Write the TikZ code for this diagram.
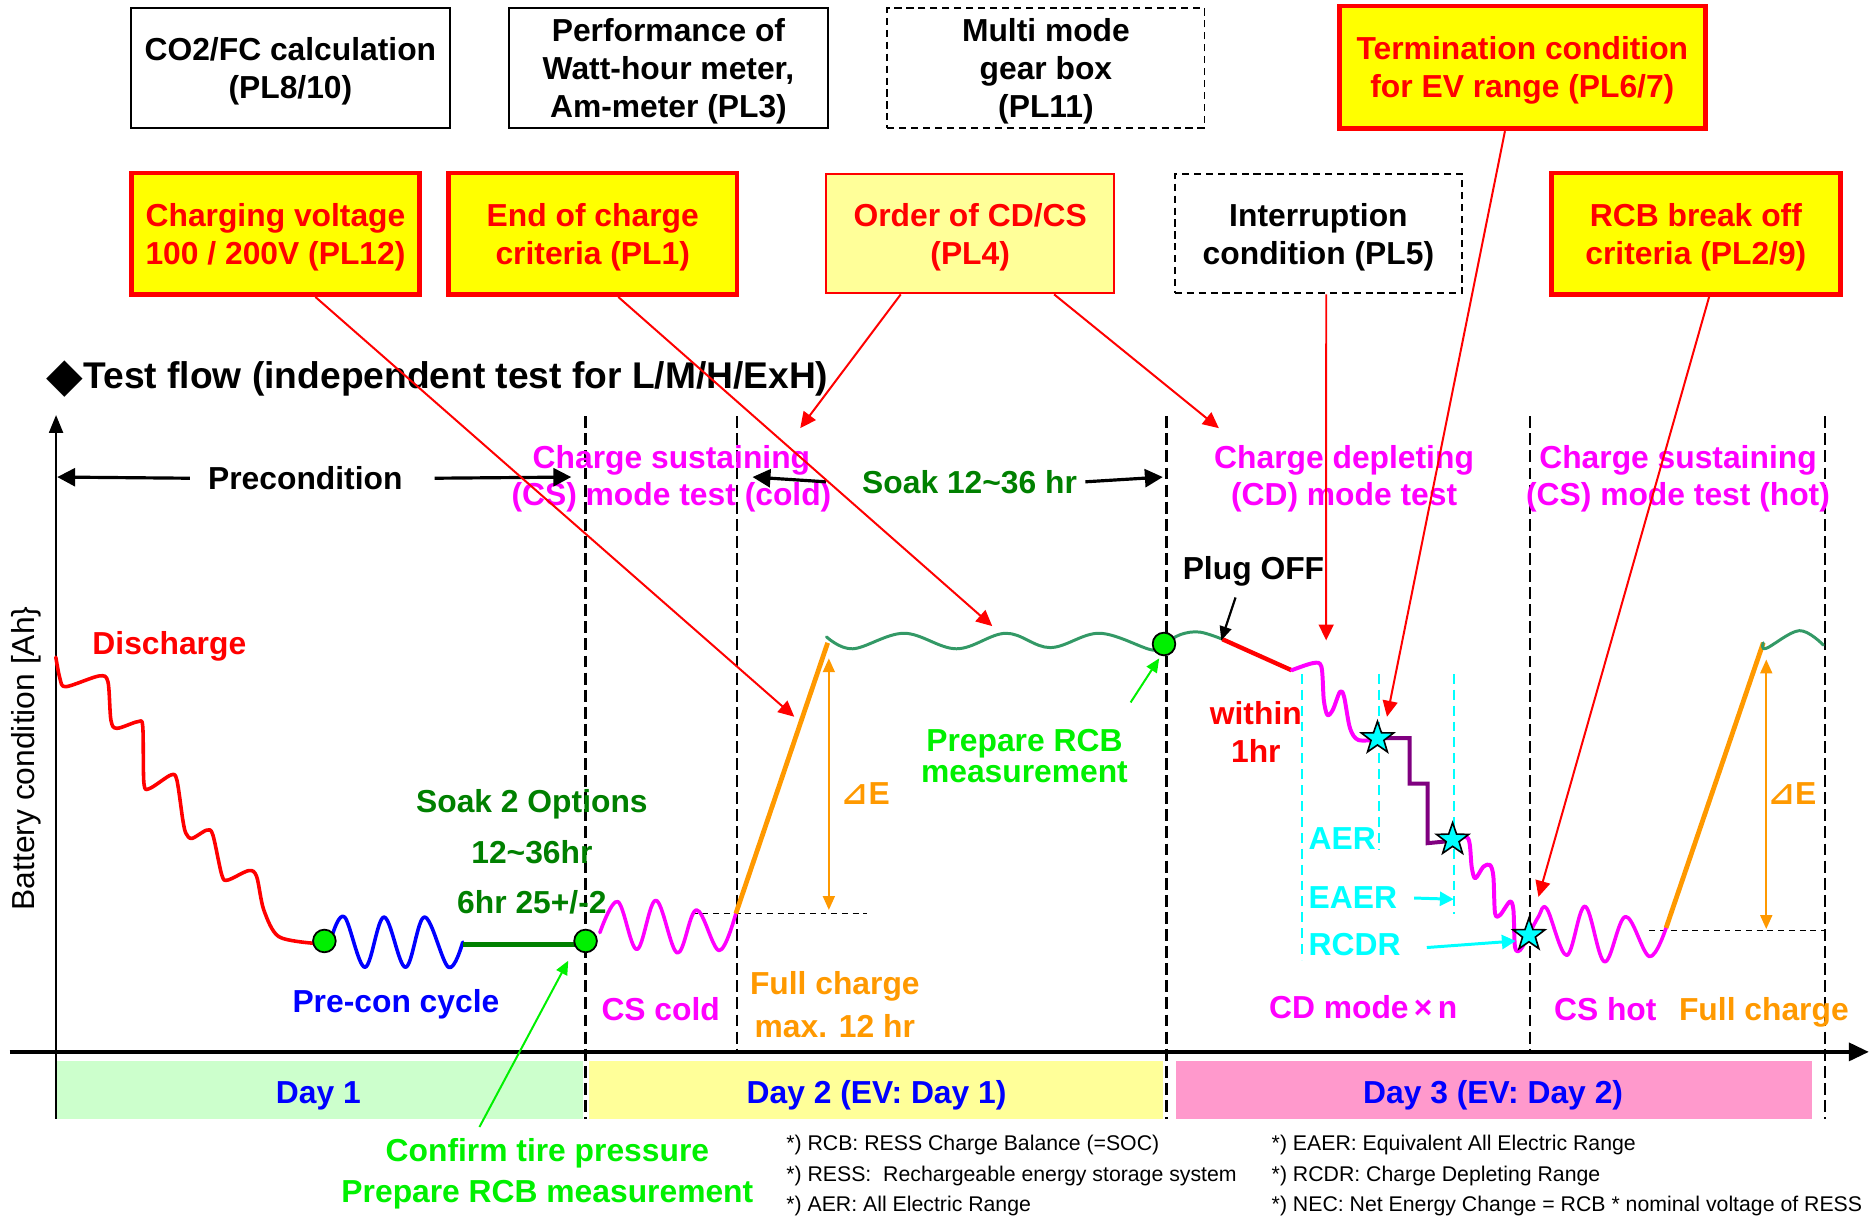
\documentclass[tikz,border=0pt]{standalone}
\usepackage{fontspec}
\setmainfont{Liberation Sans}
\newfontfamily\dejavu{DejaVu Sans}
\usetikzlibrary{arrows.meta,shapes.geometric,calc}
\definecolor{cRed}{RGB}{255,0,0}
\definecolor{cYel}{RGB}{255,255,0}
\definecolor{cLYel}{RGB}{255,255,153}
\definecolor{cMag}{RGB}{255,0,255}
\definecolor{cOra}{RGB}{255,153,0}
\definecolor{cDGreen}{RGB}{0,128,0}
\definecolor{cSea}{RGB}{51,153,102}
\definecolor{cLime}{RGB}{0,240,0}
\definecolor{cBlue}{RGB}{0,0,255}
\definecolor{cCyan}{RGB}{0,255,255}
\definecolor{cPurp}{RGB}{128,0,128}
\definecolor{cDayA}{RGB}{204,255,204}
\definecolor{cDayB}{RGB}{255,255,153}
\definecolor{cDayC}{RGB}{255,153,204}
\begin{document}
\begin{tikzpicture}[x=0.6pt,y=-0.6pt,
  every node/.style={inner sep=0pt},
  big/.style={font=\fontsize{16}{19.2}\selectfont\bfseries, text depth=0pt},
  blackbox/.style={big, draw=black, line width=0.9pt, align=center, text=black},
  dashbox/.style={blackbox, dash pattern=on 3.6pt off 2.4pt},
  keybox/.style={big, draw=cRed, line width=2.4pt, fill=cYel, text=cRed, align=center},
  softbox/.style={big, draw=cRed, line width=1pt, fill=cLYel, text=cRed, align=center},
  lbl/.style={big, align=center},
  foot/.style={font=\fontsize{10.7}{12}\selectfont, anchor=west, text depth=0pt},
  daylbl/.style={big, text=cBlue},
  vdash/.style={line width=1.2pt, dash pattern=on 6pt off 2.6pt},
  cdash/.style={cCyan, line width=1.1pt, dash pattern=on 5pt off 3pt},
  hdash/.style={line width=0.7pt, dash pattern=on 3pt off 2.4pt},
  redarrow/.style={cRed, line width=1pt, -{Triangle[length=8pt,width=7.5pt]}},
  blkarrow/.style={black, line width=1.6pt, -{Triangle[length=9pt,width=9pt]}},
  thinblk/.style={black, line width=1.1pt, -{Triangle[length=7pt,width=6pt]}},
  grnarrow/.style={cLime, line width=1pt, -{Triangle[length=7pt,width=6pt]}},
  cyanarrow/.style={cCyan, line width=1.5pt, -{Triangle[length=7pt,width=7pt]}},
  orgarrow/.style={cOra, line width=1pt, {Triangle[length=7pt,width=6pt]}-{Triangle[length=7pt,width=6pt]}},
  gdot/.style={circle, fill=cLime, draw=black, line width=0.9pt, minimum size=11.4pt},
  cstar/.style={star, star points=5, star point ratio=2.5, minimum size=17pt, fill=cCyan, draw=black, line width=0.8pt},
  curve/.style={line width=1.8pt, line cap=round, line join=round},
]
\useasboundingbox (0,0) rectangle (1568,1019);

% day bands
\fill[cDayA] (47,890) rectangle (489,938);
\fill[cDayB] (494,890) rectangle (975,938);
\fill[cDayC] (986,890) rectangle (1519,938);
\node[daylbl] (day1) at (267,916) {Day 1};
\node[daylbl] (day2) at (735,916) {Day 2 (EV: Day 1)};
\node[daylbl] (day3) at (1252,916) {Day 3 (EV: Day 2)};

% dashed phase borders
\foreach \xx/\yy in {491/938,618/882,978/938,1283/882,1530/938}{\draw[vdash] (\xx,349) -- (\xx,\yy);}
\draw[cdash] (1092,565) -- (1092,805);
\draw[cdash] (1156,565) -- (1156,712);
\draw[cdash] (1219,565) -- (1219,766);
\draw[hdash] (580,766) -- (727,766);
\draw[hdash] (1383,780) -- (1529,780);

% axes
\draw[line width=1.2pt, -{Triangle[length=9pt,width=7pt]}] (47,938) -- (47,348);
\draw[line width=1.8pt, -{Triangle[length=10pt,width=9pt]}] (8,882) -- (1567,882);
\node[font=\fontsize{16}{19}\selectfont, rotate=90] (ylab) at (22,636) {Battery condition [Ah\}};

% curves
\draw[curve, cRed] plot[smooth, tension=0.5] coordinates {(46.8,551) (50.3,569) (55.3,575.8) (83,566.8) (90.5,571.6) (93,603.8) (98,610.7) (115.6,605.1) (119.7,609.3) (120.7,656.9) (125.7,661) (143.3,649.8) (148.3,654) (153.3,687.6) (155.9,698.7) (160.9,703) (173.5,696) (178.5,700.1) (186,733.7) (191,737.9) (208.6,730) (215.2,735) (221.2,763) (233.8,785.4) (264,791)};
\draw[curve, cBlue] plot[smooth, tension=0.6] coordinates {(279,783) (289,769) (306,811) (322,769) (340,811) (356,769) (376,811) (388,790)};
\draw[cDGreen, line width=2.4pt] (388,792) -- (482,792);
\draw[curve, cMag] plot[smooth, tension=0.6] coordinates {(503,782) (518,756) (534,796) (550,755) (568,799) (584,763) (603,797) (617,766)};
\draw[cOra, line width=2.4pt] (617,766) -- (694,539);
\draw[cSea, line width=1.5pt, line cap=round] plot[smooth, tension=0.6] coordinates {(693,534) (715,544) (758,531) (802,544) (843.5,531) (880.5,543) (922,531) (966,545) (976,540) (990,532) (1006,530) (1025,536)};
\draw[cRed, line width=2.2pt] (1025,536) -- (1083,562);
\draw[curve, cMag, line width=2pt] plot[smooth, tension=0.5] coordinates {(1083,562) (1101,556) (1108,559) (1110,587) (1113,599.5) (1117.5,595.3) (1123.6,580) (1127,584.2) (1132,610.7) (1139,620.5) (1155,620)};
\draw[cPurp, line width=2pt] (1155,619) -- (1182,619) -- (1182,657) -- (1197,657) -- (1197,707) -- (1218,705);
\draw[curve, cMag, line width=2pt] plot[smooth, tension=0.5] coordinates {(1218,704) (1231,703) (1234,727) (1237,736.5) (1243.8,726.7) (1249.4,725.3) (1252.2,735) (1253.6,765.8) (1257.8,767.2) (1266,756) (1269,763) (1270.3,794) (1274.5,796.6) (1282,784)};
\draw[curve, cMag] plot[smooth, tension=0.6] coordinates {(1282,784) (1290,768.6) (1297,762) (1313.7,801) (1329,760) (1345.4,806.4) (1363,768.6) (1383,802) (1397,778)};
\draw[cOra, line width=2.4pt] (1397,778) -- (1478.5,539);
\draw[cSea, line width=1.5pt, line cap=round] plot[smooth, tension=0.6] coordinates {(1478.5,539) (1481,543.6) (1508.7,528.8) (1528.8,540.8)};

% delta E arrows
\coordinate (dEat) at (695,552);
\coordinate (dEab) at (695,763);
\draw[orgarrow] (dEab) -- (dEat);
\coordinate (dEbt) at (1481,553);
\coordinate (dEbb) at (1481,779);
\draw[orgarrow] (dEbb) -- (dEbt);

% top boxes
\node[blackbox, minimum width=160.2pt, minimum height=60pt] (boxA) at (243.5,57) {CO2/FC calculation\\(PL8/10)};
\node[blackbox, minimum width=160.2pt, minimum height=60pt] (boxB) at (560.5,57) {Performance of\\Watt-hour meter,\\Am-meter (PL3)};
\node[dashbox, minimum width=159.6pt, minimum height=60pt] (boxC) at (877,57) {Multi mode\\gear box\\(PL11)};
\node[keybox, minimum width=184.2pt, minimum height=61.8pt] (boxD) at (1276.5,56.5) {Termination condition\\for EV range (PL6/7)};
\node[keybox, minimum width=145.2pt, minimum height=61.2pt] (boxE) at (231,196) {Charging voltage\\100 / 200V (PL12)};
\node[keybox, minimum width=145.2pt, minimum height=61.2pt] (boxF) at (497,196) {End of charge\\criteria (PL1)};
\node[softbox, minimum width=144.6pt, minimum height=60pt] (boxG) at (813.5,196) {Order of CD/CS\\(PL4)};
\node[dashbox, minimum width=144.6pt, minimum height=60pt] (boxH) at (1105.5,196) {Interruption\\condition (PL5)};
\node[keybox, minimum width=145.2pt, minimum height=61.2pt] (boxI) at (1422,196) {RCB break off\\criteria (PL2/9)};

% title
\node[anchor=west, font=\fontsize{18.7}{22}\selectfont\bfseries, text depth=0pt] (title) at (39,314) {\raisebox{-1.6pt}{\dejavu\bfseries\fontsize{24}{24}\selectfont ◆}Test flow (independent test for L/M/H/ExH)};

% phase labels
\node[lbl, font=\fontsize{16}{18.6}\selectfont\bfseries, text=cMag] (csCold) at (563,398.5) {Charge sustaining\\(CS) mode test (cold)};
\node[lbl, font=\fontsize{16}{18.6}\selectfont\bfseries, text=cMag] (cdTest) at (1127,398.5) {Charge depleting\\(CD) mode test};
\node[lbl, font=\fontsize{16}{18.6}\selectfont\bfseries, text=cMag] (csHot) at (1407,398.5) {Charge sustaining\\(CS) mode test (hot)};
\node[lbl] (precon) at (256,401) {Precondition};
\node[lbl, text=cDGreen] (soakA) at (813,404) {Soak 12\textasciitilde36 hr};
\coordinate (preL) at (48,400);
\coordinate (preR) at (479,400);
\coordinate (soakL) at (631,400);
\coordinate (soakR) at (975,400);
\draw[blkarrow] ([xshift=-9pt]precon.west) -- (preL);
\draw[blkarrow] ([xshift=16pt]precon.east) -- (preR);
\draw[blkarrow] ([xshift=-18pt]soakA.west) -- (soakL);
\draw[blkarrow] ([xshift=4pt]soakA.east) -- (soakR);

% chart labels
\node[lbl, text=cRed] (dis) at (142,539) {Discharge};
\node[lbl, font=\fontsize{16}{25.2}\selectfont\bfseries, text=cDGreen] (soakB) at (446,714) {Soak 2 Options\\12\textasciitilde36hr\\6hr 25+/-2};
\node[lbl, text=cBlue] (precyc) at (332,839) {Pre-con cycle};
\node[lbl, text=cMag] (cscold) at (554,846) {CS cold};
\node[lbl, font=\fontsize{16}{21.6}\selectfont\bfseries, text=cOra] (fullA) at (700,842) {Full charge\\max. 12 hr};
\node[lbl, text=cOra] (dEa) at (726,665) {{\dejavu\bfseries ⊿}E};
\node[lbl, text=cOra] (dEb) at (1503,665) {{\dejavu\bfseries ⊿}E};
\node[lbl, font=\fontsize{16}{15.6}\selectfont\bfseries, text=cLime] (prepA) at (859,634) {Prepare RCB\\measurement};
\node[lbl] (plug) at (1051,476) {Plug OFF};
\node[lbl, text=cRed] (within) at (1053,614) {within\\1hr};
\node[lbl, text=cCyan, anchor=west] (aer) at (1097,703) {AER};
\node[lbl, text=cCyan, anchor=west] (eaer) at (1097,753) {EAER};
\node[lbl, text=cCyan, anchor=west] (rcdr) at (1097,792) {RCDR};
\node[lbl, text=cMag] (cdn) at (1143,844) {CD mode\,×\,n};
\node[lbl, text=cMag] (cshot) at (1346,846) {CS hot};
\node[lbl, text=cOra] (fullB) at (1479,846) {Full charge};
\node[lbl, font=\fontsize{16}{21}\selectfont\bfseries, text=cLime] (confirm) at (459,981.5) {Confirm tire pressure\\Prepare RCB measurement};

% footnotes
\node[foot] (fn1) at (659,958) {*) RCB: RESS Charge Balance (=SOC)};
\node[foot] (fn2) at (659,984) {*) RESS:\ \ Rechargeable energy storage system};
\node[foot] (fn3) at (659,1009) {*) AER: All Electric Range};
\node[foot] (fn4) at (1066,958) {*) EAER: Equivalent All Electric Range};
\node[foot] (fn5) at (1066,984) {*) RCDR: Charge Depleting Range};
\node[foot] (fn6) at (1066,1009) {*) NEC: Net Energy Change = RCB * nominal voltage of RESS};

% markers
\node[gdot] (c1) at (272,789) {};
\node[gdot] (c2) at (491,789) {};
\node[gdot] (c3) at (976,540) {};
\node[cstar] (s1) at (1155,619) {};
\node[cstar] (s2) at (1218,704) {};
\node[cstar] (s3) at (1282,784) {};

% cyan arrows
\coordinate (eaerTip) at (1219,754);
\coordinate (rcdrTip) at (1271,789);
\draw[cyanarrow] ([xshift=8.4pt]eaer.east) -- (eaerTip);
\draw[cyanarrow] ([xshift=13pt,yshift=-1.5pt]rcdr.east) -- (rcdrTip);

% red connectors
\coordinate (tE) at (666,601);
\coordinate (tF) at (832,525);
\coordinate (tG1) at (671,359);
\coordinate (tG2) at (1022,359);
\coordinate (tH) at (1112,537);
\coordinate (tD) at (1163,601);
\coordinate (tI) at (1290,752);
\draw[redarrow] ($(boxE.south west)!0.636!(boxE.south east)$) -- (tE);
\draw[redarrow] ($(boxF.south west)!0.587!(boxF.south east)$) -- (tF);
\draw[redarrow] ($(boxG.south west)!0.26!(boxG.south east)$) -- (tG1);
\draw[redarrow] ($(boxG.south west)!0.79!(boxG.south east)$) -- (tG2);
\draw[redarrow] ($(boxH.south west)!0.527!(boxH.south east)$) -- (tH);
\draw[redarrow] ($(boxD.south west)!0.453!(boxD.south east)$) -- (tD);
\draw[redarrow] ($(boxI.south west)!0.545!(boxI.south east)$) -- (tI);

% green and black pointers
\coordinate (gA) at (402,945);
\coordinate (gAt) at (476.5,805.5);
\draw[grnarrow] (gA) -- (gAt);
\coordinate (gB) at (948,589);
\coordinate (gBt) at (972,552);
\draw[grnarrow] (gB) -- (gBt);
\coordinate (plugS) at (1036,501);
\coordinate (plugT) at (1024,537);
\draw[thinblk] (plugS) -- (plugT);
\end{tikzpicture}
\end{document}
